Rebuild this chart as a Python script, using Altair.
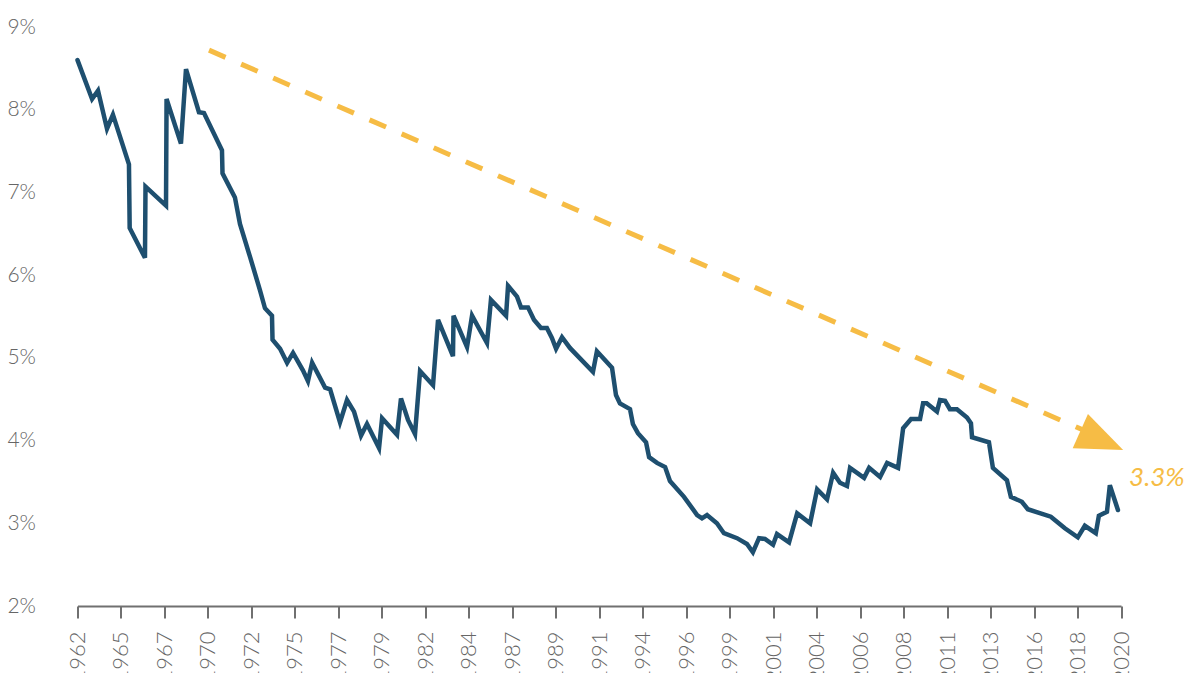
import altair as alt
import pandas as pd

# 10-year yield history (percent), decimal years
years = [
    1962.0, 1962.81, 1963.14, 1963.64, 1963.97, 1964.86, 1964.9, 1965.75, 1965.78, 1966.92,
    1966.95, 1967.75, 1968.03, 1968.75, 1969.03, 1970.03, 1970.06, 1970.75, 1971.03, 1971.59,
    1972.14, 1972.42, 1972.81, 1972.84, 1973.26, 1973.65, 1973.98, 1974.53, 1974.81, 1975.04,
    1975.76, 1976.04, 1976.59, 1976.98, 1977.37, 1977.76, 1978.09, 1978.76, 1978.93, 1979.76,
    1979.98, 1980.37, 1980.76, 1981.04, 1981.76, 1982.04, 1982.87, 1982.9, 1983.65, 1983.93,
    1984.76, 1984.98, 1985.82, 1985.93, 1986.43, 1986.65, 1987.04, 1987.37, 1987.76, 1988.09,
    1988.37, 1988.6, 1988.93, 1989.37, 1990.65, 1990.87, 1991.71, 1991.93, 1992.15, 1992.71,
    1992.87, 1993.15, 1993.6, 1993.77, 1994.21, 1994.66, 1994.93, 1995.71, 1996.44, 1996.71,
    1996.99, 1997.54, 1997.93, 1998.66, 1999.21, 1999.54, 1999.88, 2000.21, 2000.66, 2000.88,
    2001.55, 2002.0, 2002.72, 2003.11, 2003.66, 2004.0, 2004.38, 2004.77, 2004.94, 2005.72,
    2006.0, 2006.61, 2007.0, 2007.61, 2007.89, 2008.33, 2008.83, 2009.0, 2009.2, 2009.77,
    2009.94, 2010.22, 2010.49, 2010.88, 2011.44, 2011.66, 2011.72, 2012.66, 2012.88, 2013.66,
    2013.88, 2014.49, 2014.82, 2016.1, 2016.88, 2017.6, 2017.99, 2018.6, 2018.77, 2019.22,
    2019.38, 2019.83,
]
rates = [
    8.60, 8.13, 8.23, 7.77, 7.94, 7.34, 6.57, 6.21, 7.07, 6.84,
    8.13, 7.59, 8.49, 7.97, 7.96, 7.51, 7.23, 6.94, 6.62, 6.22,
    5.82, 5.60, 5.51, 5.22, 5.11, 4.94, 5.06, 4.85, 4.72, 4.94,
    4.64, 4.62, 4.22, 4.49, 4.35, 4.06, 4.20, 3.91, 4.27, 4.07,
    4.51, 4.25, 4.08, 4.84, 4.67, 5.46, 5.02, 5.51, 5.13, 5.51,
    5.18, 5.70, 5.51, 5.87, 5.74, 5.61, 5.61, 5.46, 5.36, 5.36,
    5.24, 5.11, 5.25, 5.12, 4.83, 5.08, 4.88, 4.55, 4.45, 4.38,
    4.20, 4.09, 3.98, 3.80, 3.73, 3.68, 3.51, 3.32, 3.10, 3.06,
    3.10, 3.00, 2.88, 2.82, 2.75, 2.65, 2.82, 2.81, 2.74, 2.87,
    2.77, 3.12, 3.00, 3.41, 3.29, 3.61, 3.49, 3.45, 3.67, 3.55,
    3.67, 3.56, 3.73, 3.67, 4.15, 4.26, 4.26, 4.45, 4.45, 4.35,
    4.49, 4.48, 4.38, 4.38, 4.28, 4.21, 4.04, 3.98, 3.67, 3.52,
    3.32, 3.26, 3.17, 3.08, 2.94, 2.83, 2.97, 2.88, 3.09, 3.14,
    3.46, 3.16,
]

# x-axis tick labels, evenly spaced from 1962 to 2020
tick_labels = ["1962", "1965", "1967", "1970", "1972", "1975", "1977", "1979", "1982",
               "1984", "1987", "1989", "1991", "1994", "1996", "1999", "2001", "2004",
               "2006", "2008", "2011", "2013", "2016", "2018", "2020"]
y_ticks = [2, 3, 4, 5, 6, 7, 8, 9]

# downward trend arrow (start / end of the dashed shaft, head position)
trend_years = [1969.31, 2018.3]
trend_rates = [8.72, 4.09]
head_year = [2018.93]
head_rate = [4.00]
callout_text = ["3.3%"]
callout_year = [2020.45]
callout_rate = [3.55]

NAVY = "#1e4f6f"
GOLD = "#f6bc45"
GREY = "#666666"
FONT = "Lato"

x0, x1 = 1962, 2020
n = len(tick_labels) - 1
tick_vals = [x0 + k * (x1 - x0) / n for k in range(n + 1)]
label_expr = "[" + ",".join("'%s'" % t for t in tick_labels) + "]" + \
    "[round((datum.value - %d) * %d / %d)]" % (x0, n, x1 - x0)

xscale = alt.Scale(domain=[x0, x1], nice=False, zero=False)
yscale = alt.Scale(domain=[2, 9], nice=False, zero=False)

series = pd.DataFrame({"year": years, "rate": rates})

line = alt.Chart(series).mark_line(
    color=NAVY, strokeWidth=4.5, strokeJoin="miter", strokeCap="round"
).encode(
    x=alt.X("year:Q", scale=xscale,
            axis=alt.Axis(values=tick_vals, labelExpr=label_expr, title=None,
                          labelAngle=-90, labelAlign="right", labelBaseline="middle",
                          labelFont=FONT, labelFontSize=22, labelFontWeight=300,
                          labelColor=GREY, labelPadding=13, tickSize=12,
                          tickColor="#707070", tickWidth=2, domainColor="#707070",
                          domainWidth=2, grid=False, labelOverlap=False,
                          labelFlush=False)),
    y=alt.Y("rate:Q", scale=yscale,
            axis=alt.Axis(values=y_ticks, labelExpr="datum.value + '%'", title=None,
                          labelFont=FONT, labelFontSize=21, labelFontWeight=300,
                          labelColor=GREY, labelPadding=42, ticks=False,
                          domain=False, grid=False)),
)

trend = alt.Chart(pd.DataFrame({"year": trend_years, "rate": trend_rates})).mark_line(
    color=GOLD, strokeWidth=5, strokeDash=[18, 17], strokeCap="butt"
).encode(x=alt.X("year:Q", scale=xscale), y=alt.Y("rate:Q", scale=yscale))

head = alt.Chart(pd.DataFrame({"year": head_year, "rate": head_rate})).mark_point(
    shape="M-1,-0.8L1,0L-1,0.8Z", filled=True, size=2200, angle=24,
    color=GOLD, opacity=1, strokeWidth=0
).encode(x=alt.X("year:Q", scale=xscale), y=alt.Y("rate:Q", scale=yscale))

callout = alt.Chart(pd.DataFrame({"year": callout_year, "rate": callout_rate,
                                  "label": callout_text})).mark_text(
    align="left", baseline="middle", font=FONT, fontSize=26, fontStyle="italic",
    fontWeight=400, color=GOLD
).encode(x=alt.X("year:Q", scale=xscale), y=alt.Y("rate:Q", scale=yscale),
         text="label:N")

chart = alt.layer(trend, head, line, callout).properties(
    width=1043.5, height=579,
    padding={"left": 77.5, "top": 27, "right": 68, "bottom": 67},
    autosize=alt.AutoSizeParams(type="none"),
    background="white",
).configure_view(strokeWidth=0, stroke=None)

chart.save("out.html", embed_options={"renderer": "svg", "actions": False})
